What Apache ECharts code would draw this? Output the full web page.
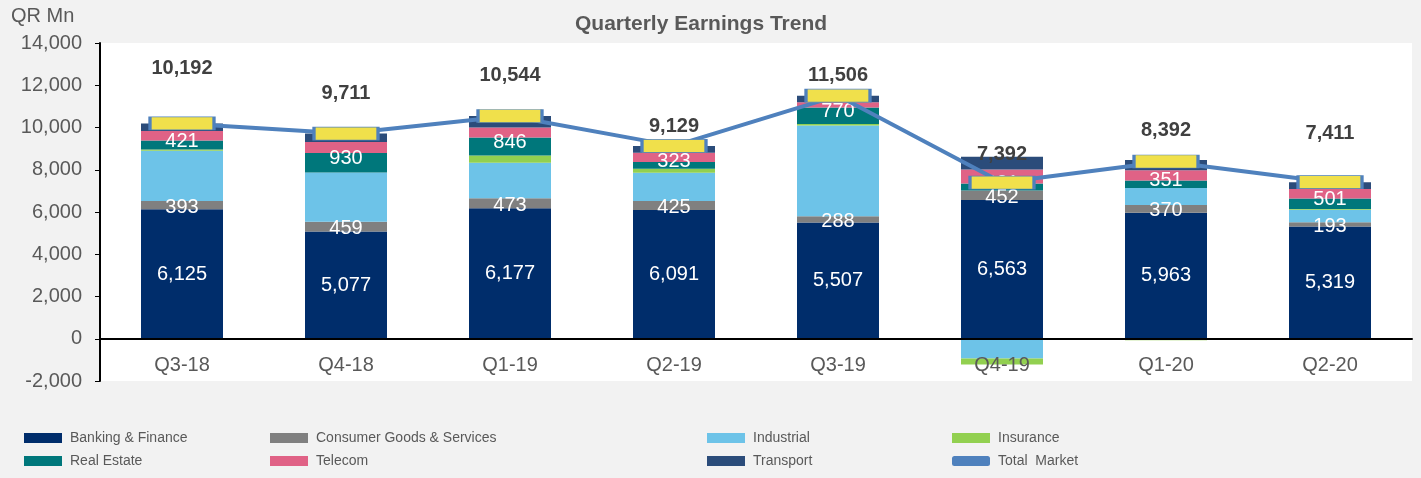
<!DOCTYPE html>
<html>
<head>
<meta charset="utf-8">
<title>Quarterly Earnings Trend</title>
<script src="https://cdn.jsdelivr.net/npm/echarts@6/dist/echarts.min.js"></script>
<style>
    html,body{margin:0;padding:0;background:#F2F2F2;}
    #main{width:1421px;height:478px;}
</style>
</head>
<body>
<div id="main"></div>
<script>
// 数据
var categories=['Q3-18','Q4-18','Q1-19','Q2-19','Q3-19','Q4-19','Q1-20','Q2-20'];
var banking=[6125,5077,6177,6091,5507,6563,5963,5319];
var consumer=[393,459,473,425,288,452,370,193];
var industrial=[2380,2330,1685,1340,4296,-940,803,600];
var insurance=[60,0,345,190,80,-282,-66,30];
var realEstate=[421,930,846,323,770,331,351,501];
var telecom=[460,520,472,440,250,660,487,440];
var transport=[353,395,546,320,315,608,484,328];
var totalMarket=[10192,9711,10544,9129,11506,7392,8392,7411];
var yTicks=[-2000,14000,2000];

// 总额标签上移的像素(手工摆放)
var totalLabelLift=[55,40,41,19,20,28,31,49];

var fmt=function (v) {
    return Number(v).toLocaleString('en-US');
};

var showEchart={
    echartId:null,
    getEchartById:function (id) {
        return echarts.init(document.getElementById(id));
    },
    /**
     * 堆叠柱
     */
    barSeries:function (name,data,color,label) {
        var s={
            name:name,
            type:'bar',
            stack:'total',
            barWidth:'50%',
            data:data,
            itemStyle:{color:color},
            emphasis:{disabled:true}
        };
        if(label){
            s.label={
                show:true,
                position:'inside',
                offset:label,
                color:'#fff',
                fontSize:20,
                fontFamily:'Liberation Sans',
                formatter:function (p) { return fmt(p.value); }
            };
        }
        return s;
    },
    getOptionEcharts:function () {
        var self=this;
        var lineData=totalMarket.map(function (v,i) {
            return {value:v,label:{offset:[0,-totalLabelLift[i]]}};
        });
        var legendText={color:'#595959',fontSize:14,fontFamily:'Liberation Sans',lineHeight:16,padding:[0,0,0,3]};
        var legendBase={orient:'vertical',top:430,icon:'rect',itemWidth:38,itemHeight:10,itemGap:7,padding:0,textStyle:legendText,selectedMode:false};
        return {
            backgroundColor:'#F2F2F2',
            animation:false,
            title:{
                text:'Quarterly Earnings Trend',
                left:570,top:9,
                textStyle:{color:'#595959',fontSize:21,fontWeight:'bold',fontFamily:'Liberation Sans'}
            },
            graphic:[{
                type:'text',left:11,top:6,
                style:{text:'QR Mn',fill:'#595959',fontSize:20,fontFamily:'Liberation Sans'}
            }],
            legend:[
                Object.assign({left:24,data:['Banking & Finance','Real Estate']},legendBase),
                Object.assign({left:270,data:['Consumer Goods & Services','Telecom']},legendBase),
                Object.assign({left:707,data:['Industrial','Transport']},legendBase),
                Object.assign({left:952,data:['Insurance',{name:'Total  Market',icon:'roundRect',itemStyle:{color:'#4F81BD',borderWidth:0}}]},legendBase)
            ],
            grid:{
                left:100,right:9,top:43,bottom:97,
                show:true,backgroundColor:'#FFFFFF',borderWidth:0
            },
            xAxis:{
                type:'category',
                data:categories,
                z:10,
                axisLine:{onZero:true,lineStyle:{color:'#000',width:2}},
                axisTick:{show:false},
                axisLabel:{color:'#595959',fontSize:20,fontFamily:'Liberation Sans',margin:-26}
            },
            yAxis:{
                type:'value',
                min:yTicks[0],max:yTicks[1],interval:yTicks[2],
                axisLine:{show:true,lineStyle:{color:'#000',width:2}},
                axisTick:{show:true,length:5,lineStyle:{color:'#000'}},
                splitLine:{show:false},
                axisLabel:{color:'#595959',fontSize:20,fontFamily:'Liberation Sans',margin:18,
                    formatter:function (v) { return fmt(v); }}
            },
            series:[
                self.barSeries('Banking & Finance',banking,'#002D6B',[0,0]),
                self.barSeries('Consumer Goods & Services',consumer,'#808080',[0,2]),
                self.barSeries('Industrial',industrial,'#6DC3E8'),
                self.barSeries('Insurance',insurance,'#92D050'),
                self.barSeries('Real Estate',realEstate,'#00777B',[0,-4]),
                self.barSeries('Telecom',telecom,'#E06286'),
                self.barSeries('Transport',transport,'#2B4C7A'),
                {
                    name:'Total  Market',
                    type:'line',
                    data:lineData,
                    symbol:'rect',
                    symbolSize:[64,13],
                    itemStyle:{color:'#F0E04B',borderColor:'#4F81BD',borderWidth:1.5},
                    lineStyle:{color:'#4F81BD',width:4},
                    label:{
                        show:true,
                        position:'inside',
                        color:'#404040',
                        fontSize:20,
                        fontWeight:'bold',
                        fontFamily:'Liberation Sans',
                        formatter:function (p) { return fmt(p.value); }
                    },
                    emphasis:{disabled:true}
                }
            ]
        };
    },
    setOptionEcharts:function (id) {
        this.echartId=this.getEchartById(id);
        if(this.echartId)
            this.echartId.setOption(this.getOptionEcharts());
    }
};

showEchart.setOptionEcharts('main');
</script>
</body>
</html>
